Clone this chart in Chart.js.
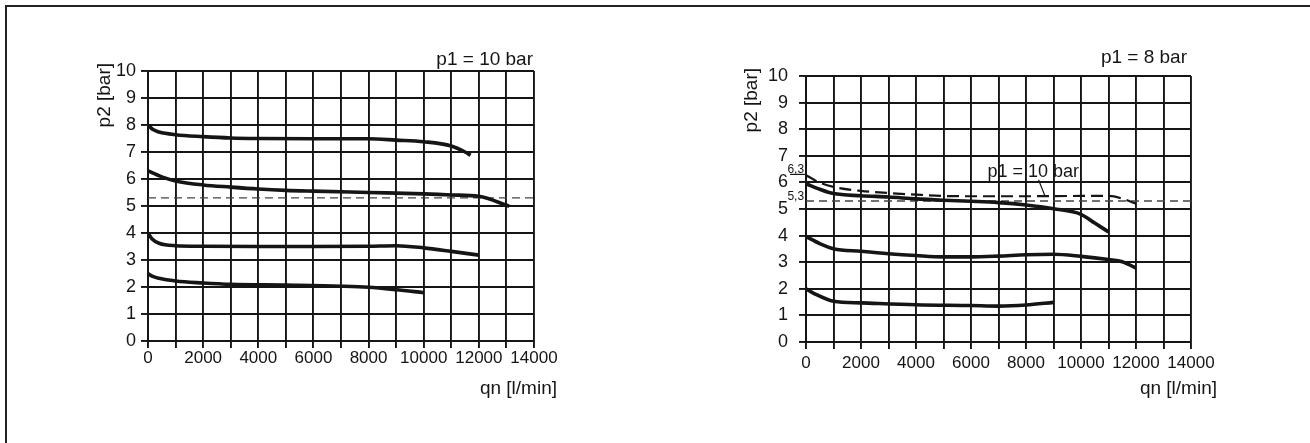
<!DOCTYPE html>
<html>
<head>
<meta charset="utf-8">
<script src="https://cdn.jsdelivr.net/npm/chart.js@4.4.1/dist/chart.umd.min.js"></script>
<style>
  html, body { margin: 0; padding: 0; background: #fff; }
  #page { position: relative; width: 1310px; height: 443px; overflow: hidden; }
  #frame { position: absolute; left: 5px; top: 5px; width: 1400px; height: 500px;
           border-top: 2px solid #222; border-left: 2px solid #222; }
  .box { position: absolute; top: 0; width: 655px; height: 443px; }
</style>
</head>
<body>
<div id="page">
  <div id="frame"></div>
  <div class="box" style="left:0"><canvas id="chartLeft" width="655" height="443"></canvas></div>
  <div class="box" style="left:655px"><canvas id="chartRight" width="655" height="443"></canvas></div>
</div>
<script>
// Kennlinien p2 ueber qn, links p1 = 10 bar, rechts p1 = 8 bar

// links: p1 = 10 bar
var qA = [0, 180, 400, 1000, 2000, 3000, 4000, 6000, 8000, 9000, 10000, 11000, 11500, 11700];
var pA = [8.0, 7.83, 7.74, 7.64, 7.57, 7.52, 7.5, 7.49, 7.49, 7.44, 7.38, 7.22, 7.0, 6.88];
var qB = [0, 500, 1000, 2000, 3000, 4000, 5000, 6000, 8000, 10000, 11000, 12000, 13100];
var pB = [6.3, 6.08, 5.93, 5.78, 5.7, 5.63, 5.58, 5.55, 5.5, 5.45, 5.41, 5.36, 4.99];
var qC = [0, 150, 400, 1000, 2000, 4000, 6000, 8000, 9000, 10000, 11000, 12000];
var pC = [4.0, 3.78, 3.62, 3.53, 3.51, 3.5, 3.5, 3.51, 3.53, 3.45, 3.32, 3.18];
var qD = [0, 150, 400, 1000, 2000, 3000, 5000, 7000, 8000, 9000, 10000];
var pD = [2.5, 2.4, 2.32, 2.22, 2.15, 2.1, 2.07, 2.03, 1.99, 1.9, 1.79];

// rechts: p1 = 8 bar
var qE = [0, 500, 1000, 2000, 3000, 4000, 5000, 6000, 7000, 8000, 9000, 10000, 10500, 11000];
var pE = [5.95, 5.74, 5.58, 5.5, 5.45, 5.38, 5.33, 5.29, 5.24, 5.15, 5.01, 4.8, 4.47, 4.14];
var qF = [0, 500, 1000, 2000, 3000, 4000, 5000, 6000, 8000, 10000, 11000, 11500, 12000];   // p1 = 10 bar, gestrichelt
var pF = [6.27, 5.99, 5.83, 5.68, 5.6, 5.54, 5.49, 5.48, 5.48, 5.49, 5.49, 5.39, 5.2];
var qG = [0, 500, 1000, 2000, 3000, 4000, 5000, 6000, 7000, 8000, 9000, 10000, 11000, 11500, 12000];
var pG = [3.97, 3.7, 3.51, 3.41, 3.32, 3.25, 3.2, 3.2, 3.23, 3.28, 3.3, 3.22, 3.1, 3.02, 2.78];
var qH = [0, 300, 1000, 2000, 4000, 6000, 7000, 8000, 9000];
var pH = [2.0, 1.82, 1.53, 1.47, 1.4, 1.37, 1.35, 1.39, 1.49];

// Referenzlinie 5,3 bar
var qRef = [0, 14000];
var pRef = [5.3, 5.3];

var ink = '#151515';
var sans = '"Liberation Sans", Arial, sans-serif';
Chart.defaults.font.family = sans;
Chart.defaults.color = ink;

function pts(q, p) {
    return q.map(function (v, i) { return { x: v, y: p[i] }; });
}

function curve(q, p, extra) {
    return Object.assign({
        data: pts(q, p),
        borderColor: ink,
        borderWidth: 3.6,
        pointRadius: 0,
        fill: false,
        cubicInterpolationMode: 'monotone'
    }, extra || {});
}

function refLine() {
    return curve(qRef, pRef, { borderColor: '#444', borderWidth: 1.3, borderDash: [8, 5] });
}

function axes(padX, padY) {
    return {
        x: {
            type: 'linear', min: 0, max: 14000,
            ticks: {
                stepSize: 1000, autoSkip: false, maxRotation: 0, padding: padX,
                font: { size: 17 },
                callback: function (v) { return v % 2000 === 0 ? String(v) : ''; }
            },
            grid: { color: ink, lineWidth: 1.9, tickLength: 7 },
            border: { color: ink, width: 1.9 },
            afterFit: function (s) { s.height = 30; }
        },
        y: {
            min: 0, max: 10,
            ticks: { stepSize: 1, autoSkip: false, padding: padY, font: { size: 18 } },
            grid: { color: ink, lineWidth: 1.9, tickLength: 7 },
            border: { color: ink, width: 1.9 },
            afterFit: function (s) { s.width = 56; }
        }
    };
}

// Beschriftungen ausserhalb der Achsen
var notes = {
    id: 'notes',
    afterDraw: function (chart, args, o) {
        var ctx = chart.ctx, sx = chart.scales.x, sy = chart.scales.y;
        ctx.save();
        ctx.fillStyle = ink;
        ctx.strokeStyle = ink;
        ctx.textBaseline = 'alphabetic';
        ctx.font = '19px ' + sans;
        ctx.textAlign = 'right';
        ctx.fillText(o.title, o.titleX, o.titleY);
        ctx.fillText('qn [l/min]', o.xTitleX, o.xTitleY);
        ctx.save();
        ctx.translate(o.yTitleX, o.yTitleTop);
        ctx.rotate(-Math.PI / 2);
        ctx.textBaseline = 'middle';
        ctx.fillText('p2 [bar]', 0, 0);
        ctx.restore();
        (o.texts || []).forEach(function (t) {
            ctx.font = t.size + 'px ' + sans;
            ctx.textAlign = t.align;
            ctx.fillText(t.text, sx.getPixelForValue(t.q), sy.getPixelForValue(t.p));
        });
        (o.lines || []).forEach(function (l) {
            ctx.lineWidth = 1.2;
            ctx.beginPath();
            ctx.moveTo(sx.getPixelForValue(l[0]), sy.getPixelForValue(l[1]));
            ctx.lineTo(sx.getPixelForValue(l[2]), sy.getPixelForValue(l[3]));
            ctx.stroke();
        });
        ctx.restore();
    }
};

var common = {
    responsive: false,
    animation: false,
    events: [],
    plugins: { legend: { display: false }, tooltip: { enabled: false } }
};

var chartLeft = new Chart(document.getElementById('chartLeft'), {
    type: 'line',
    data: {
        datasets: [curve(qA, pA), curve(qB, pB), curve(qC, pC), curve(qD, pD), refLine()]
    },
    options: Object.assign({}, common, {
        layout: { padding: { left: 92, right: 121, top: 71, bottom: 72 } },
        scales: axes(0, 5),
        plugins: Object.assign({}, common.plugins, {
            notes: {
                title: 'p1 = 10 bar', titleX: 533, titleY: 65,
                xTitleX: 557, xTitleY: 394,
                yTitleX: 105, yTitleTop: 63
            }
        })
    }),
    plugins: [notes]
});

var chartRight = new Chart(document.getElementById('chartRight'), {
    type: 'line',
    data: {
        datasets: [
            curve(qE, pE),
            curve(qF, pF, { borderWidth: 2.2, borderDash: [12, 6] }),
            curve(qG, pG),
            curve(qH, pH),
            refLine()
        ]
    },
    options: Object.assign({}, common, {
        layout: { padding: { left: 95, right: 119, top: 76, bottom: 71 } },
        scales: axes(4, 11),
        plugins: Object.assign({}, common.plugins, {
            notes: {
                title: 'p1 = 8 bar', titleX: 532, titleY: 63,
                xTitleX: 562, xTitleY: 394,
                yTitleX: 97, yTitleTop: 68,
                texts: [
                    { text: 'p1 = 10 bar', q: 6600, p: 6.2, size: 18, align: 'left' },
                    { text: '6,3', q: -70, p: 6.36, size: 12, align: 'right' },
                    { text: '5,3', q: -70, p: 5.34, size: 12, align: 'right' }
                ],
                lines: [[8456, 6.1, 8698, 5.47], [-580, 6.3, 0, 6.3]]
            }
        })
    }),
    plugins: [notes]
});
</script>
</body>
</html>
